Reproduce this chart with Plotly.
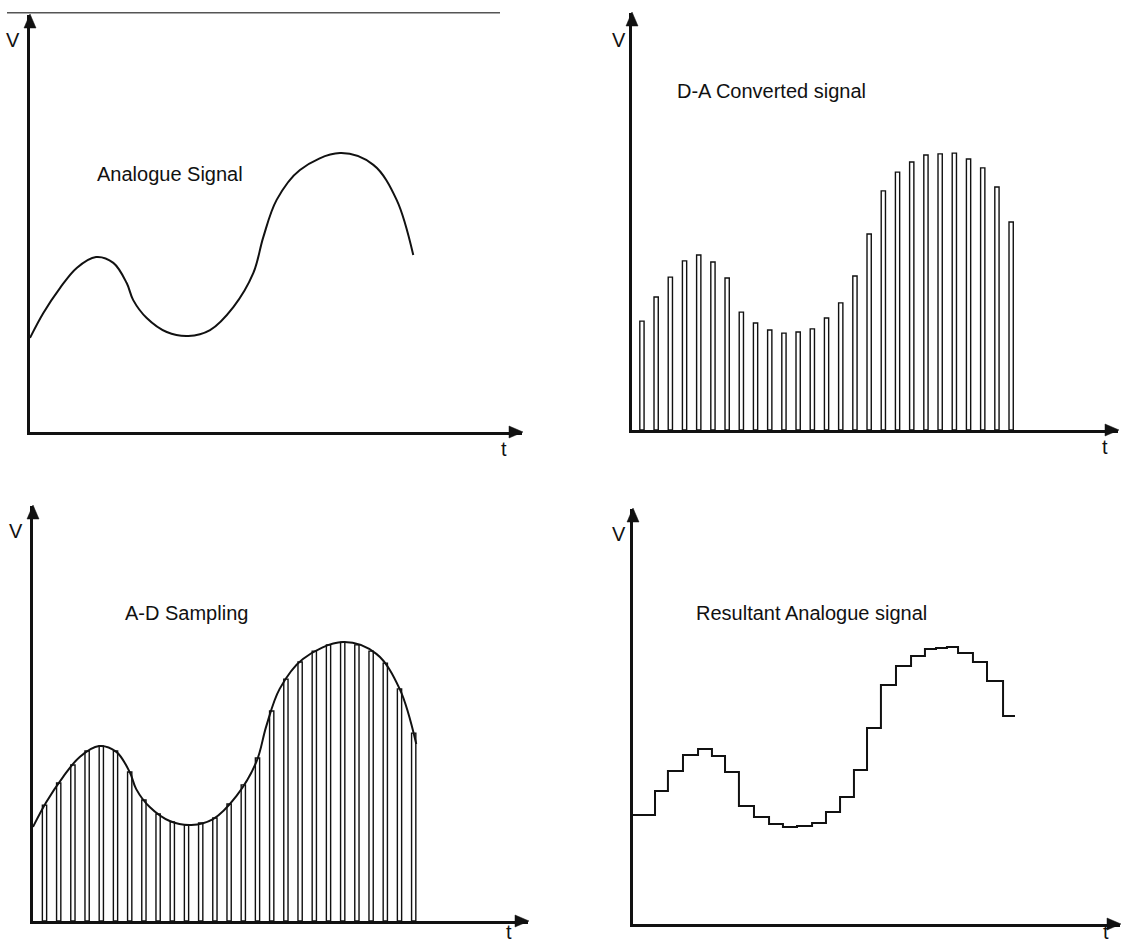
import plotly.graph_objects as go

# ---------------- data (t in sample periods, V in volts) ----------------
# Analogue signal: points
curve_t = [0.00, 0.94, 2.11, 3.29, 4.65, 5.87, 6.81, 7.27, 8.22, 9.63, 11.15,
           12.68, 14.32, 15.73, 16.43, 17.37, 19.01, 21.83, 24.18, 25.82, 26.99]
curve_v = [3.36, 4.25, 5.14, 5.86, 6.25, 6.04, 5.32, 4.71, 4.07, 3.57, 3.43,
           3.64, 4.46, 5.68, 6.96, 8.29, 9.36, 9.96, 9.54, 8.29, 6.32]

# A-D sampling pulses (under the curve)
ad_t = [0.81, 1.81, 2.81, 3.81, 4.81, 5.81, 6.81, 7.81, 8.81, 9.81, 10.81,
        11.81, 12.81, 13.81, 14.81, 15.81, 16.81, 17.81, 18.81, 19.81, 20.81,
        21.81, 22.81, 23.81, 24.81, 25.81, 26.81]
ad_v = [4.14, 4.93, 5.57, 6.07, 6.25, 6.07, 5.32, 4.32, 3.82, 3.54, 3.43,
        3.50, 3.68, 4.18, 4.86, 5.82, 7.50, 8.64, 9.25, 9.64, 9.86, 9.96,
        9.86, 9.64, 9.21, 8.29, 6.71]

# D-A converted samples
dac_t = [0.70, 1.70, 2.70, 3.70, 4.70, 5.70, 6.70, 7.70, 8.70, 9.70, 10.70,
         11.70, 12.70, 13.70, 14.70, 15.70, 16.70, 17.70, 18.70, 19.70, 20.70,
         21.70, 22.70, 23.70, 24.70, 25.70, 26.70]
dac_v = [3.89, 4.75, 5.46, 6.04, 6.25, 6.00, 5.43, 4.21, 3.82, 3.57, 3.46,
         3.50, 3.61, 4.00, 4.54, 5.50, 7.00, 8.54, 9.21, 9.57, 9.82, 9.86,
         9.89, 9.68, 9.36, 8.68, 7.43]

# Resultant analogue signal: hold start times of each sample, and the end time
hold_t = [0.00, 1.55, 2.46, 3.52, 4.58, 5.56, 6.48, 7.46, 8.52, 9.58, 10.56,
          11.55, 12.61, 13.59, 14.58, 15.56, 16.48, 17.46, 18.52, 19.58, 20.56,
          21.34, 22.11, 22.89, 23.94, 24.93, 26.06]
hold_end = 26.90

titles = ["Analogue Signal", "D-A Converted signal", "A-D Sampling",
          "Resultant Analogue signal"]

# ---------------- layout geometry (pixels in the 1122x944 page) ----------------
W, H = 1122, 944
PX_T, PX_V = 14.2, 28.0
panels = [
    dict(ox=30, oy=432, tipx=522, tipy=15, tx=170, ty=174, vx=13, vy=40, lx=504, ly=449, tb=False),
    dict(ox=632, oy=430, tipx=1118, tipy=13, tx=771, ty=91, vx=619, vy=40, lx=1105, ly=447, tb=False),
    dict(ox=33, oy=921, tipx=528, tipy=506, tx=186, ty=613, vx=16, vy=531, lx=509, ly=944, tb=True),
    dict(ox=633, oy=924, tipx=1120, tipy=509, tx=811, ty=613, vx=619, vy=534, lx=1106, ly=944, tb=True),
]

INK = "#111111"
FONT = dict(family="Liberation Sans, Arial, sans-serif", size=20, color=INK)

fig = go.Figure()

# Panel 1: analogue signal
fig.add_trace(go.Scatter(x=curve_t, y=curve_v, mode="lines",
                         line=dict(color=INK, width=2, shape="spline", smoothing=1.0),
                         xaxis="x", yaxis="y", hoverinfo="skip"))
# Panel 2: D-A converted pulses
fig.add_trace(go.Bar(x=dac_t, y=dac_v, width=0.30,
                     marker=dict(color="white", line=dict(color=INK, width=1.4)),
                     xaxis="x2", yaxis="y2", hoverinfo="skip"))
# Panel 3: A-D sampling pulses + curve
fig.add_trace(go.Bar(x=ad_t, y=ad_v, width=0.30,
                     marker=dict(color="white", line=dict(color=INK, width=1.4)),
                     xaxis="x3", yaxis="y3", hoverinfo="skip"))
fig.add_trace(go.Scatter(x=curve_t, y=curve_v, mode="lines",
                         line=dict(color=INK, width=2, shape="spline", smoothing=1.0),
                         xaxis="x3", yaxis="y3", hoverinfo="skip"))
# Panel 4: staircase
fig.add_trace(go.Scatter(x=hold_t + [hold_end], y=dac_v + [dac_v[-1]], mode="lines",
                         line=dict(color=INK, width=2, shape="hv"),
                         xaxis="x4", yaxis="y4", hoverinfo="skip"))

layout = dict(width=W, height=H, margin=dict(l=0, r=0, t=0, b=0),
              paper_bgcolor="white", plot_bgcolor="rgba(0,0,0,0)",
              showlegend=False, barmode="overlay")
shapes, annotations = [], []
for i, p in enumerate(panels):
    sfx = "" if i == 0 else str(i + 1)
    layout["xaxis" + sfx] = dict(
        domain=[p["ox"] / W, p["tipx"] / W],
        range=[0, (p["tipx"] - p["ox"]) / PX_T],
        showline=True, linewidth=2.5, linecolor=INK,
        showgrid=False, zeroline=False, ticks="", showticklabels=False,
        anchor="y" + sfx, fixedrange=True)
    layout["yaxis" + sfx] = dict(
        domain=[1 - p["oy"] / H, 1 - p["tipy"] / H],
        range=[0, (p["oy"] - p["tipy"]) / PX_V],
        showline=True, linewidth=2.5, linecolor=INK,
        showgrid=False, zeroline=False, ticks="", showticklabels=False,
        anchor="x" + sfx, fixedrange=True)
    # arrow heads
    shapes.append(dict(type="path", xref="paper", yref="paper",
                       xsizemode="pixel", ysizemode="pixel",
                       xanchor=p["tipx"] / W, yanchor=1 - p["oy"] / H,
                       path="M1,0 L-13,6 L-13,-6 Z",
                       fillcolor=INK, line=dict(color=INK, width=0.5)))
    shapes.append(dict(type="path", xref="paper", yref="paper",
                       xsizemode="pixel", ysizemode="pixel",
                       xanchor=p["ox"] / W, yanchor=1 - p["tipy"] / H,
                       path="M0,1 L-6,-13 L6,-13 Z",
                       fillcolor=INK, line=dict(color=INK, width=0.5)))
    annotations.append(dict(text=titles[i], x=p["tx"] / W, y=1 - p["ty"] / H,
                            xref="paper", yref="paper", showarrow=False,
                            xanchor="center", yanchor="middle", font=FONT))
    annotations.append(dict(text="V", x=p["vx"] / W, y=1 - p["vy"] / H,
                            xref="paper", yref="paper", showarrow=False,
                            xanchor="center", yanchor="middle", font=FONT))
    annotations.append(dict(text="t", x=p["lx"] / W, y=1 - p["ly"] / H,
                            xref="paper", yref="paper", showarrow=False,
                            xanchor="center",
                            yanchor="bottom" if p["tb"] else "middle",
                            font=FONT, borderpad=0))

# page rule along the top of the first panel
shapes.append(dict(type="line", xref="paper", yref="paper",
                   x0=7 / W, x1=500 / W, y0=1 - 12.7 / H, y1=1 - 12.7 / H,
                   line=dict(color="#555555", width=1.5)))

layout["shapes"] = shapes
layout["annotations"] = annotations
fig.update_layout(**layout)

fig.write_html("out.html", config={"displayModeBar": False},
               post_script="document.body.style.margin='0';"
                           "document.body.style.overflow='hidden';")
